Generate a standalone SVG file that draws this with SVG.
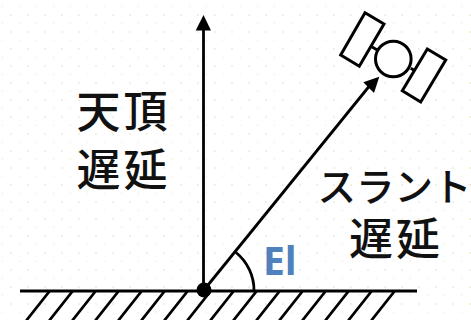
<svg xmlns="http://www.w3.org/2000/svg" width="471" height="320" viewBox="0 0 471 320">
  <style>
    .ln { fill: none; stroke: #000; stroke-width: 2.8; }
    .sat { fill: #fff; stroke: #000; stroke-width: 3; }
    .jp { font-family: "Noto Sans CJK JP", "Noto Sans CJK SC", sans-serif; fill: #111; font-weight: 500; }
    .head { fill: #000; }
  </style>
  <defs>
    <pattern id="grid" width="17" height="17" patternUnits="userSpaceOnUse">
      <rect x="10" y="14" width="2" height="2" fill="#f1f1e2"/>
      <rect x="1.5" y="5.500" width="2" height="1.500" fill="#f5f5ea"/>
    </pattern>
  </defs>
  <rect width="471" height="320" fill="#fff"/>
  <rect width="471" height="320" fill="url(#grid)"/>
  <g id="connectors">
    <path class="ln" d="M203.500 290V28"/>
    <polygon class="head" points="203.500,15 195.700,30.500 211,30.500"/>
    <path class="ln" d="M204 290L371 84"/>
    <polygon class="head" points="379.300,76.700 374,93 363.300,82.300"/>
    <path class="ln" d="M236 252.500A49 49 0 0 1 254 291"/>
  </g>
  <g id="ground">
    <path class="ln" d="M20 291H417"/>
    <path class="ln" d="M49.300 291.500L26.300 320.500M72.300 291.500L49.300 320.500M95.300 291.500L72.300 320.500M118.300 291.500L95.300 320.500M141.300 291.500L118.300 320.500M164.300 291.500L141.300 320.500M187.300 291.500L164.300 320.500M210.300 291.500L187.300 320.500M233.300 291.500L210.300 320.500M256.300 291.500L233.300 320.500M279.300 291.500L256.300 320.500M302.300 291.500L279.300 320.500M325.300 291.500L302.300 320.500M348.300 291.500L325.300 320.500M371.300 291.500L348.300 320.500M394.300 291.500L371.300 320.500"/>
    <circle cx="204" cy="290" r="7.500" fill="#000"/>
  </g>
  <g id="satellite">
    <path class="ln" d="M371.700 46.700L377.300 50M410.700 68.300L415 70.700"/>
    <polygon class="sat" points="365,12.700 384,24 359.300,66.300 340.700,55"/>
    <polygon class="sat" points="427.300,49 445.700,60 420.700,102 402.300,90.700"/>
    <circle class="sat" cx="393.300" cy="59" r="17.800"/>
  </g>
  <g id="label-zenith">
    <text class="jp" x="123.500" y="128" font-size="44" text-anchor="middle" letter-spacing="3">天頂</text>
    <text class="jp" x="123.500" y="186" font-size="44" text-anchor="middle" letter-spacing="3">遅延</text>
  </g>
  <g id="label-slant">
    <text class="jp" x="394.500" y="201" font-size="38.500" text-anchor="middle">スラント</text>
    <text class="jp" x="396" y="255" font-size="44" text-anchor="middle" letter-spacing="3">遅延</text>
  </g>
  <g id="label-el">
    <text x="263" y="275" font-family="'Open Sans', sans-serif" font-weight="700" font-size="39" fill="#4f81bd">El</text>
  </g>
</svg>
